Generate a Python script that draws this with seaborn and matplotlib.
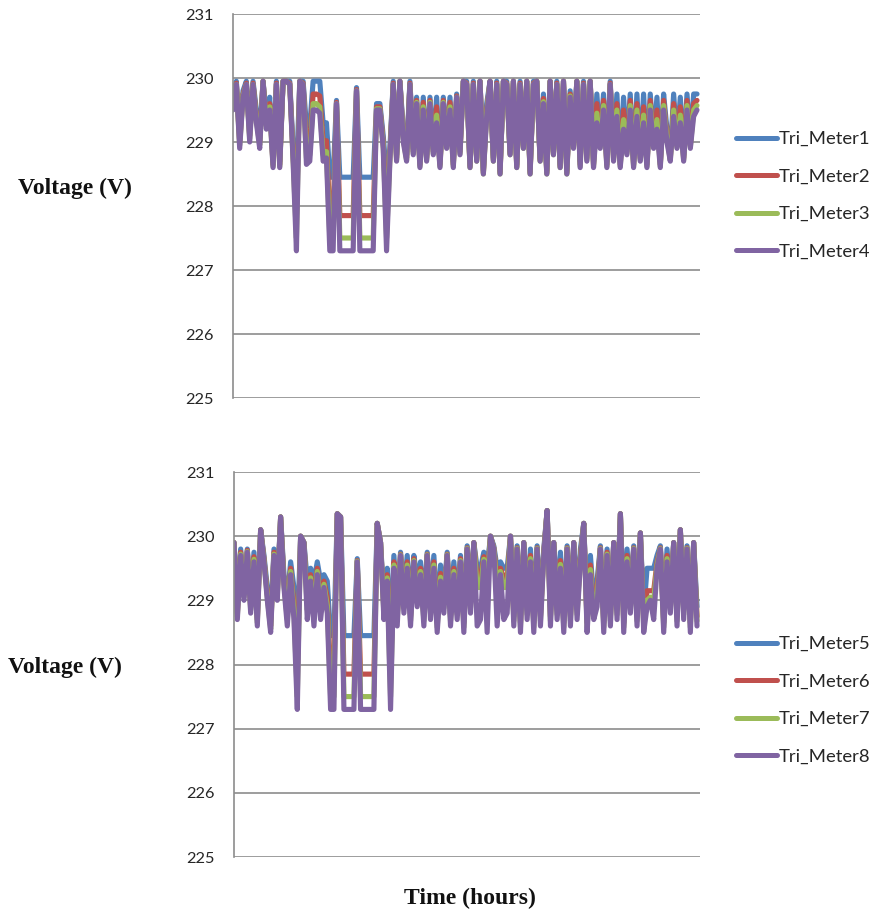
import numpy as np
import pandas as pd
import matplotlib
matplotlib.use("Agg")
import matplotlib.pyplot as plt
import seaborn as sns

# ---------------- data ----------------
top_names = ["Tri_Meter1", "Tri_Meter2", "Tri_Meter3", "Tri_Meter4"]
bot_names = ["Tri_Meter5", "Tri_Meter6", "Tri_Meter7", "Tri_Meter8"]
colors = ["#4F81BD", "#C0504D", "#9BBB59", "#8064A2"]
y_ticks = [225, 226, 227, 228, 229, 230, 231]

meter1 = [229.7, 229.95, 229.1, 229.8, 229.95, 229.2, 229.95, 229.5, 229.1, 229.95,
          229.4, 229.7, 228.7, 229.95, 228.7, 229.95, 229.95, 229.95, 228.9, 228.45,
          229.95, 229.95, 229.25, 229.25, 229.95, 229.95, 229.95, 229.3, 229.3, 228.45,
          228.45, 229.65, 228.45, 228.45, 228.45, 228.45, 228.45, 229.85, 228.45, 228.45,
          228.45, 228.45, 228.45, 229.6, 229.6, 229.1, 228.45, 228.9, 229.95, 228.8,
          229.95, 229.2, 228.8, 229.95, 228.9, 229.7, 228.7, 229.7, 228.8, 229.7,
          228.9, 229.7, 228.7, 229.7, 229.0, 229.7, 228.7, 229.75, 228.9, 229.95,
          229.95, 228.65, 229.95, 228.75, 229.95, 228.55, 229.6, 229.95, 228.75, 229.95,
          228.55, 229.95, 229.95, 228.85, 229.95, 228.65, 229.95, 228.95, 229.95, 228.55,
          229.95, 229.95, 228.75, 229.75, 228.55, 229.95, 228.85, 229.95, 228.65, 229.95,
          228.55, 229.8, 229.0, 229.95, 228.7, 229.95, 228.8, 229.95, 228.7, 229.75,
          229.0, 229.75, 228.7, 229.95, 228.8, 229.75, 228.7, 229.7, 228.9, 229.75,
          228.7, 229.75, 228.8, 229.75, 228.7, 229.75, 229.0, 229.7, 228.7, 229.75,
          229.2, 228.8, 229.75, 229.0, 229.7, 228.8, 229.75, 229.0, 229.75, 229.75]
meter2 = [229.62, 229.92, 229.0, 229.75, 229.92, 229.1, 229.92, 229.4, 229.0, 229.95,
          229.3, 229.6, 228.65, 229.92, 228.65, 229.95, 229.95, 229.92, 228.8, 227.85,
          229.95, 229.92, 228.95, 228.97, 229.75, 229.75, 229.72, 229.0, 229.02, 227.85,
          227.85, 229.62, 227.85, 227.85, 227.85, 227.85, 227.85, 229.82, 227.85, 227.85,
          227.85, 227.85, 227.85, 229.55, 229.55, 229.0, 227.85, 228.8, 229.92, 228.75,
          229.95, 229.1, 228.75, 229.92, 228.85, 229.65, 228.65, 229.62, 228.75, 229.65,
          228.85, 229.55, 228.65, 229.65, 228.95, 229.62, 228.65, 229.72, 228.85, 229.95,
          229.92, 228.62, 229.92, 228.72, 229.95, 228.52, 229.5, 229.95, 228.72, 229.92,
          228.52, 229.95, 229.92, 228.82, 229.95, 228.62, 229.92, 228.92, 229.95, 228.52,
          229.92, 229.95, 228.72, 229.68, 228.52, 229.95, 228.82, 229.92, 228.62, 229.95,
          228.52, 229.75, 228.95, 229.95, 228.65, 229.92, 228.75, 229.95, 228.65, 229.6,
          228.95, 229.65, 228.65, 229.92, 228.75, 229.6, 228.65, 229.5, 228.85, 229.65,
          228.65, 229.6, 228.75, 229.55, 228.65, 229.65, 228.95, 229.5, 228.65, 229.65,
          229.1, 228.75, 229.6, 228.95, 229.55, 228.75, 229.65, 228.95, 229.6, 229.65]
meter3 = [229.56, 229.9, 228.95, 229.72, 229.9, 229.05, 229.9, 229.35, 228.95, 229.95,
          229.25, 229.55, 228.62, 229.9, 228.62, 229.95, 229.95, 229.9, 228.75, 227.5,
          229.95, 229.9, 228.75, 228.8, 229.6, 229.6, 229.55, 228.8, 228.85, 227.5,
          227.5, 229.6, 227.5, 227.5, 227.5, 227.5, 227.5, 229.8, 227.5, 227.5,
          227.5, 227.5, 227.5, 229.52, 229.52, 228.95, 227.5, 228.75, 229.9, 228.72,
          229.95, 229.05, 228.72, 229.9, 228.82, 229.62, 228.62, 229.55, 228.72, 229.62,
          228.82, 229.42, 228.62, 229.62, 228.92, 229.55, 228.62, 229.7, 228.82, 229.95,
          229.9, 228.6, 229.9, 228.7, 229.95, 228.5, 229.45, 229.95, 228.7, 229.9,
          228.5, 229.95, 229.9, 228.8, 229.95, 228.6, 229.9, 228.9, 229.95, 228.5,
          229.9, 229.95, 228.7, 229.63, 228.5, 229.95, 228.8, 229.9, 228.6, 229.95,
          228.5, 229.72, 228.92, 229.95, 228.62, 229.9, 228.72, 229.95, 228.62, 229.45,
          228.92, 229.57, 228.62, 229.9, 228.72, 229.5, 228.62, 229.35, 228.82, 229.57,
          228.62, 229.5, 228.72, 229.42, 228.62, 229.57, 228.92, 229.35, 228.62, 229.57,
          229.05, 228.72, 229.5, 228.92, 229.42, 228.72, 229.57, 228.92, 229.5, 229.57]
meter4 = [229.5, 229.9, 228.9, 229.7, 229.9, 229.0, 229.9, 229.3, 228.9, 229.95,
          229.2, 229.5, 228.6, 229.9, 228.6, 229.95, 229.95, 229.9, 228.7, 227.3,
          229.95, 229.9, 228.65, 228.7, 229.5, 229.5, 229.45, 228.7, 228.75, 227.3,
          227.3, 229.6, 227.3, 227.3, 227.3, 227.3, 227.3, 229.8, 227.3, 227.3,
          227.3, 227.3, 227.3, 229.5, 229.5, 228.9, 227.3, 228.7, 229.9, 228.7,
          229.95, 229.0, 228.7, 229.9, 228.8, 229.6, 228.6, 229.5, 228.7, 229.6,
          228.8, 229.3, 228.6, 229.6, 228.9, 229.5, 228.6, 229.7, 228.8, 229.95,
          229.9, 228.6, 229.9, 228.7, 229.95, 228.5, 229.4, 229.95, 228.7, 229.9,
          228.5, 229.95, 229.9, 228.8, 229.95, 228.6, 229.9, 228.9, 229.95, 228.5,
          229.9, 229.95, 228.7, 229.6, 228.5, 229.95, 228.8, 229.9, 228.6, 229.95,
          228.5, 229.7, 228.9, 229.95, 228.6, 229.9, 228.7, 229.95, 228.6, 229.3,
          228.9, 229.5, 228.6, 229.9, 228.7, 229.4, 228.6, 229.2, 228.8, 229.5,
          228.6, 229.4, 228.7, 229.3, 228.6, 229.5, 228.9, 229.2, 228.6, 229.5,
          229.0, 228.7, 229.4, 228.9, 229.3, 228.7, 229.5, 228.9, 229.4, 229.5]

meter5 = [229.9, 228.9, 229.8, 229.2, 229.8, 229.0, 229.75, 228.8, 230.1, 229.7,
          229.2, 228.7, 229.8, 229.2, 230.3, 229.4, 229.0, 229.6, 229.2, 228.45,
          230.0, 229.9, 229.3, 229.5, 229.3, 229.6, 229.3, 229.4, 229.3, 228.45,
          228.45, 230.35, 230.3, 228.45, 228.45, 228.45, 228.45, 229.65, 228.45, 228.45,
          228.45, 228.45, 228.45, 230.2, 229.9, 229.0, 229.5, 228.45, 229.7, 228.9,
          229.75, 229.1, 229.7, 228.9, 229.7, 229.3, 229.6, 228.9, 229.75, 229.0,
          229.7, 228.8, 229.55, 229.1, 229.75, 228.9, 229.6, 229.0, 229.7, 228.8,
          229.85, 229.1, 229.9, 229.5, 229.5, 229.75, 229.5, 230.0, 229.85, 229.5,
          229.6, 229.5, 229.5, 230.0, 228.9, 229.85, 228.8, 229.9, 229.0, 229.8,
          228.8, 229.85, 228.9, 229.8, 230.4, 228.9, 229.9, 229.0, 229.75, 228.8,
          229.85, 228.9, 229.9, 229.0, 229.8, 230.2, 228.8, 229.7, 229.0, 229.3,
          229.85, 228.8, 229.8, 228.9, 229.9, 229.0, 230.35, 228.8, 229.8, 229.1,
          229.85, 228.9, 230.05, 228.8, 229.5, 229.5, 229.5, 229.7, 229.85, 228.8,
          229.8, 229.1, 229.9, 228.9, 230.1, 229.0, 229.85, 228.8, 229.9, 228.9]
meter6 = [229.9, 228.8, 229.75, 229.1, 229.78, 228.9, 229.68, 228.7, 230.1, 229.65,
          229.1, 228.6, 229.75, 229.1, 230.3, 229.3, 228.8, 229.5, 228.95, 227.85,
          230.0, 229.9, 229.0, 229.4, 228.95, 229.5, 229.0, 229.3, 229.05, 227.85,
          227.85, 230.35, 230.3, 227.85, 227.85, 227.85, 227.85, 229.62, 227.85, 227.85,
          227.85, 227.85, 227.85, 230.2, 229.9, 228.85, 229.4, 227.85, 229.6, 228.75,
          229.72, 228.95, 229.6, 228.75, 229.65, 229.1, 229.5, 228.75, 229.72, 228.85,
          229.6, 228.65, 229.42, 228.95, 229.72, 228.75, 229.5, 228.85, 229.65, 228.65,
          229.82, 228.95, 229.9, 229.35, 229.35, 229.68, 229.35, 230.0, 229.82, 229.35,
          229.5, 229.35, 229.35, 230.0, 228.75, 229.82, 228.65, 229.9, 228.85, 229.7,
          228.65, 229.82, 228.75, 229.75, 230.4, 228.75, 229.9, 228.85, 229.62, 228.65,
          229.82, 228.75, 229.9, 228.85, 229.7, 230.2, 228.65, 229.55, 228.85, 229.2,
          229.82, 228.65, 229.75, 228.75, 229.9, 228.85, 230.35, 228.65, 229.7, 228.95,
          229.82, 228.75, 230.05, 228.65, 229.15, 229.15, 229.15, 229.6, 229.82, 228.65,
          229.7, 228.95, 229.9, 228.75, 230.1, 228.85, 229.82, 228.65, 229.9, 228.75]
meter7 = [229.9, 228.75, 229.72, 229.05, 229.76, 228.85, 229.64, 228.65, 230.1, 229.62,
          229.05, 228.55, 229.72, 229.05, 230.3, 229.25, 228.7, 229.45, 228.82, 227.5,
          230.0, 229.9, 228.85, 229.35, 228.78, 229.45, 228.85, 229.25, 228.92, 227.5,
          227.5, 230.35, 230.3, 227.5, 227.5, 227.5, 227.5, 229.61, 227.5, 227.5,
          227.5, 227.5, 227.5, 230.2, 229.9, 228.78, 229.35, 227.5, 229.55, 228.68,
          229.71, 228.88, 229.55, 228.68, 229.62, 229.0, 229.45, 228.68, 229.71, 228.78,
          229.55, 228.58, 229.36, 228.88, 229.71, 228.68, 229.45, 228.78, 229.62, 228.58,
          229.81, 228.88, 229.9, 229.2, 229.2, 229.64, 229.2, 230.0, 229.81, 229.2,
          229.45, 229.2, 229.2, 230.0, 228.68, 229.81, 228.58, 229.9, 228.78, 229.65,
          228.58, 229.81, 228.68, 229.72, 230.4, 228.68, 229.9, 228.78, 229.56, 228.58,
          229.81, 228.68, 229.9, 228.78, 229.65, 230.2, 228.58, 229.48, 228.78, 229.05,
          229.81, 228.58, 229.72, 228.68, 229.9, 228.78, 230.35, 228.58, 229.65, 228.88,
          229.81, 228.68, 230.05, 228.58, 229.0, 229.05, 229.0, 229.55, 229.81, 228.58,
          229.65, 228.88, 229.9, 228.68, 230.1, 228.78, 229.81, 228.58, 229.9, 228.68]
meter8 = [229.9, 228.7, 229.7, 229.0, 229.75, 228.8, 229.6, 228.6, 230.1, 229.6,
          229.0, 228.5, 229.7, 229.0, 230.3, 229.2, 228.6, 229.4, 228.7, 227.3,
          230.0, 229.9, 228.7, 229.3, 228.6, 229.4, 228.7, 229.2, 228.8, 227.3,
          227.3, 230.35, 230.3, 227.3, 227.3, 227.3, 227.3, 229.6, 227.3, 227.3,
          227.3, 227.3, 227.3, 230.2, 229.9, 228.7, 229.3, 227.3, 229.5, 228.6,
          229.7, 228.8, 229.5, 228.6, 229.6, 228.9, 229.4, 228.6, 229.7, 228.7,
          229.5, 228.5, 229.3, 228.8, 229.7, 228.6, 229.4, 228.7, 229.6, 228.5,
          229.8, 228.8, 229.9, 228.6, 228.7, 229.6, 228.5, 230.0, 229.8, 228.6,
          229.4, 228.7, 228.8, 230.0, 228.6, 229.8, 228.5, 229.9, 228.7, 229.6,
          228.5, 229.8, 228.6, 229.7, 230.4, 228.6, 229.9, 228.7, 229.5, 228.5,
          229.8, 228.6, 229.9, 228.7, 229.6, 230.2, 228.5, 229.4, 228.7, 228.9,
          229.8, 228.5, 229.7, 228.6, 229.9, 228.7, 230.35, 228.5, 229.6, 228.8,
          229.8, 228.6, 230.05, 228.5, 228.9, 229.0, 228.7, 229.5, 229.8, 228.5,
          229.6, 228.8, 229.9, 228.6, 230.1, 228.7, 229.8, 228.5, 229.9, 228.6]


def long_frame(names, series):
    rows = []
    for name, vals in zip(names, series):
        for t, v in enumerate(vals):
            rows.append((t, v, name))
    return pd.DataFrame(rows, columns=["t", "v", "meter"])


df_top = long_frame(top_names, [meter1, meter2, meter3, meter4])
df_bot = long_frame(bot_names, [meter5, meter6, meter7, meter8])
n_pts = len(meter4)

# ---------------- figure ----------------
sns.set_style("white")
plt.rcParams["font.family"] = ["Lato", "DejaVu Sans"]

W, H = 874, 913
fig = plt.figure(figsize=(W / 100, H / 100), dpi=100)
ax1 = fig.add_axes([233 / W, 1 - 398 / H, 467 / W, 384 / H])
ax2 = fig.add_axes([234 / W, 1 - 857 / H, 466 / W, 385 / H])

grid_c = "#8C8C8C"
for ax, df, names, leg_top in [(ax1, df_top, top_names, 1 - 131 / H),
                               (ax2, df_bot, bot_names, 1 - 636 / H)]:
    sns.lineplot(data=df, x="t", y="v", hue="meter", hue_order=names,
                 palette=colors, linewidth=3.7, ax=ax, legend=False,
                 estimator=None, sort=False)
    ax.set_ylim(225, 231)
    ax.set_xlim(0, (n_pts - 1) * 467 / 464)
    ax.set_yticks(y_ticks)
    ax.set_yticklabels([str(v) for v in y_ticks])
    ax.set_xticks([])
    ax.set_xlabel("")
    ax.set_ylabel("")
    ax.yaxis.grid(True, color=grid_c, linewidth=1.2)
    ax.set_axisbelow(True)
    for s in ["top", "right", "bottom"]:
        ax.spines[s].set_visible(False)
    ax.spines["left"].set_color(grid_c)
    ax.spines["left"].set_linewidth(1.2)
    ax.tick_params(axis="y", direction="out", length=6, width=1.2,
                   color=grid_c, labelsize=11.8, labelcolor="#262626", pad=8)
    handles = [plt.Line2D([], [], color=c, linewidth=3.6) for c in colors]
    fig.legend(handles, names, loc="upper left",
               bbox_to_anchor=(736 / W, leg_top), frameon=False,
               fontsize=13.3, handlelength=2.2, handletextpad=0.1,
               labelspacing=1.17, borderpad=0, borderaxespad=0)

serif = ["Liberation Serif", "DejaVu Serif"]
fig.text(18 / W, 1 - 188 / H, "Voltage (V)", family=serif, fontweight="bold",
         fontsize=17, ha="left", va="center", color="#111111")
fig.text(8 / W, 1 - 667 / H, "Voltage (V)", family=serif, fontweight="bold",
         fontsize=17, ha="left", va="center", color="#111111")
fig.text(470 / W, 1 - 898 / H, "Time (hours)", family=serif, fontweight="bold",
         fontsize=17, ha="center", va="center", color="#111111")

fig.savefig("out.png", dpi=100)
